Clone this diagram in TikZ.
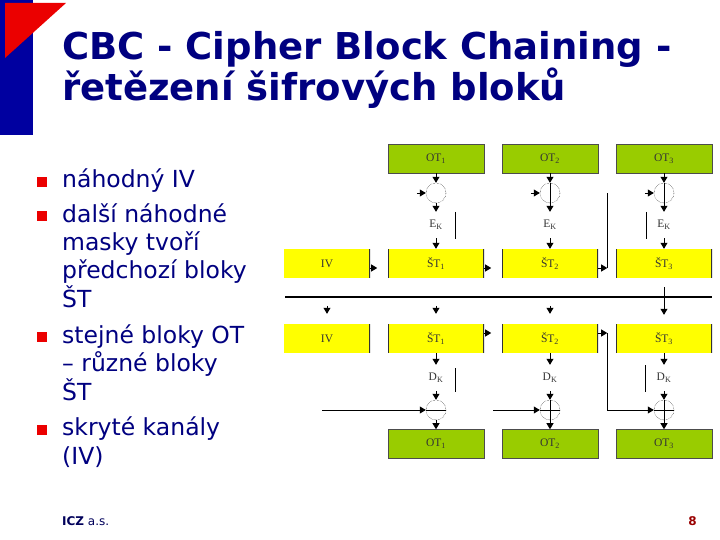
\documentclass[tikz,border=0pt]{standalone}
\usepackage{fontspec}
\setmainfont{DejaVu Sans}
\newfontfamily\blockfont{Liberation Serif}
\usetikzlibrary{arrows.meta,positioning,calc}
\definecolor{slidenavy}{RGB}{0,0,128}
\definecolor{barblue}{RGB}{0,0,160}
\definecolor{slidered}{RGB}{235,0,0}
\definecolor{otgreen}{RGB}{153,204,0}
\definecolor{styellow}{RGB}{255,255,0}
\definecolor{pagered}{RGB}{153,0,0}
\tikzset{
  otbox/.style={draw=black!70,line width=0.6pt,fill=otgreen,minimum width=96pt,minimum height=29pt,inner sep=0pt,font=\blockfont\fontsize{11.5}{13}\selectfont,text=black!80},
  stbox/.style={fill=styellow,minimum width=96pt,minimum height=29pt,inner sep=0pt,font=\blockfont\fontsize{11.5}{13}\selectfont,text=black!80,
    path picture={\draw[black!80,line width=2pt] (path picture bounding box.north west) -- (path picture bounding box.south west)
      (path picture bounding box.north east) -- (path picture bounding box.south east);}},
  ivbox/.style={stbox,minimum width=86pt,
    path picture={\draw[black!80,line width=2pt] (path picture bounding box.north east) -- (path picture bounding box.south east);}},
  xorc/.style={circle,draw,densely dotted,minimum size=20pt,inner sep=0pt},
  keylbl/.style={font=\blockfont\fontsize{11.5}{13}\selectfont,text=black!80,minimum height=26pt,inner sep=0pt},
  arr/.style={-{Triangle[width=7pt,length=6pt]},line width=0.8pt},
  bul/.style={fill=slidered,minimum size=10.5pt,inner sep=0pt},
  itemtxt/.style={anchor=base west,align=left,inner sep=0pt,text=slidenavy,font=\fontsize{23.5}{28.3}\selectfont},
  titletxt/.style={anchor=base west,inner sep=0pt,text=slidenavy,font=\bfseries\fontsize{37}{41}\selectfont},
}
\begin{document}
\begin{tikzpicture}[x=1pt,y=-1pt]
\useasboundingbox (0,0) rectangle (720,540);

% slide decoration and heading
\fill[barblue] (0,0) rectangle (33,135);
\fill[slidered] (5,3) -- (66,3) -- (5,58) -- cycle;
\node[titletxt] (t1) at (62,60) {CBC - Cipher Block Chaining -};
\node[titletxt] (t2) at (62,101) {řetězení šifrových bloků};

% bullet list (base = baseline of the last line)
\node[bul] (b1) at (42,182) {};
\node[bul] (b2) at (42,216) {};
\node[bul] (b3) at (42,337) {};
\node[bul] (b4) at (42,430) {};
\node[itemtxt] (i1) at (62,188) {náhodný IV};
\node[itemtxt] (i2) at (62,307) {další náhodné\\masky tvoří\\předchozí bloky\\ŠT};
\node[itemtxt] (i3) at (62,400) {stejné bloky OT\\– různé bloky\\ŠT};
\node[itemtxt] (i4) at (62,464) {skryté kanály\\(IV)};

% footer
\node[anchor=base west,inner sep=0pt,font=\fontsize{12}{14}\selectfont,text=slidenavy!70!black] (foot) at (62,525) {\textbf{ICZ} a.s.};
\node[anchor=base east,inner sep=0pt,font=\bfseries\fontsize{12}{14}\selectfont,text=pagered] (pg) at (697,525) {8};

% encryption half
\node[otbox] (ot1) at (436,158.5) {OT\textsubscript{1}};
\node[otbox] (ot2) at (550,158.5) {OT\textsubscript{2}};
\node[otbox] (ot3) at (664,158.5) {OT\textsubscript{3}};
\node[xorc] (xe1) at (436,193) {};
\node[xorc] (xe2) at (550,193) {};
\node[xorc] (xe3) at (664,193) {};
\node[keylbl] (ek1) at (436,225) {E\textsubscript{K}};
\node[keylbl] (ek2) at (550,225) {E\textsubscript{K}};
\node[keylbl] (ek3) at (664,225) {E\textsubscript{K}};
\node[ivbox] (iv1) at (327,263.5) {IV};
\node[stbox] (st1) at (436,263.5) {ŠT\textsubscript{1}};
\node[stbox] (st2) at (550,263.5) {ŠT\textsubscript{2}};
\node[stbox] (st3) at (664,263.5) {ŠT\textsubscript{3}};

\foreach \i in {1,2,3}{
  \draw[arr] (ot\i) -- (xe\i);
  \draw[arr] (xe\i) -- (ek\i);
  \draw[arr] (ek\i) -- (st\i);
  \coordinate (ie\i) at ($(xe\i.west)+(-9,0)$);
  \draw[arr] (ie\i) -- (xe\i);
}
\draw (xe2.north) -- (xe2.south);
\draw (xe3.north) -- (xe3.south);
\draw ($(ek1)+(19,-13)$) -- ++(0,27);
\draw ($(ek3)+(-18,-13)$) -- ++(0,27);

% chaining outputs
\path (iv1.east) ++(0,4.5) coordinate (oa0) ++(7,0) coordinate (ob0);
\path (st1.east) ++(0,4.5) coordinate (oa1) ++(7,0) coordinate (ob1);
\path (st2.east) ++(0,4.5) coordinate (oa2) ++(9,0) coordinate (ob2);
\draw[arr] (oa0) -- (ob0);
\draw[arr] (oa1) -- (ob1);
\draw[arr] (oa2) -- (ob2);
\draw (ob2) -- (ob2 |- xe3);

% dividing line
\coordinate (hl) at (285,297);
\coordinate (hr) at (712,297);
\draw[line width=2pt] (hl) -- (hr);

% decryption half
\node[ivbox] (iv2) at (327,338.5) {IV};
\node[stbox] (sd1) at (436,338.5) {ŠT\textsubscript{1}};
\node[stbox] (sd2) at (550,338.5) {ŠT\textsubscript{2}};
\node[stbox] (sd3) at (664,338.5) {ŠT\textsubscript{3}};
\node[keylbl] (dk1) at (436,378) {D\textsubscript{K}};
\node[keylbl] (dk2) at (550,378) {D\textsubscript{K}};
\node[keylbl] (dk3) at (664,378) {D\textsubscript{K}};
\node[xorc] (xd1) at (436,410) {};
\node[xorc] (xd2) at (550,410) {};
\node[xorc] (xd3) at (664,410) {};
\node[otbox] (od1) at (436,444) {OT\textsubscript{1}};
\node[otbox] (od2) at (550,444) {OT\textsubscript{2}};
\node[otbox] (od3) at (664,444) {OT\textsubscript{3}};

\foreach \n in {iv2,sd1,sd2}
  \draw[arr] ($(\n.north)+(0,-18)$) -- ($(\n.north)+(0,-10)$);
\coordinate (f3) at (664,287);
\draw[arr] (f3) -- ($(sd3.north)+(0,-9)$);

\foreach \i in {1,2,3}{
  \draw[arr] (sd\i) -- (dk\i);
  \draw[arr] (dk\i) -- (xd\i);
  \draw[arr] (xd\i) -- (od\i);
  \draw (xd\i.west) -- (xd\i.east);
}
\draw (xd2.north) -- (xd2.south);
\draw (xd3.north) -- (xd3.south);
\draw ($(dk1)+(19,-10)$) -- ++(0,24);
\draw ($(dk3)+(-19,-13)$) -- ++(0,27);

\coordinate (id1) at (322,410);
\coordinate (id2) at (493,410);
\draw[arr] (id1) -- (xd1);
\draw[arr] (id2) -- (xd2);
\path (sd1.east) ++(0,-5.5) coordinate (pa1) ++(7,0) coordinate (pb1);
\path (sd2.east) ++(0,-5.5) coordinate (pa2) ++(9,0) coordinate (pb2);
\draw[arr] (pa1) -- (pb1);
\draw[arr] (pa2) -- (pb2);
\draw[arr] (pb2) |- (xd3);

\end{tikzpicture}
\end{document}
